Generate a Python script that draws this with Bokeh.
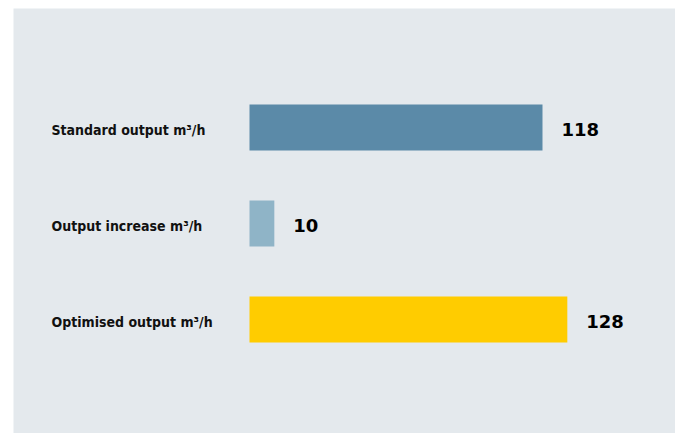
from bokeh.plotting import figure
from bokeh.models import Range1d, ColumnDataSource
from bokeh.core.properties import value
from bokeh.embed import file_html
from bokeh.resources import INLINE

categories = ["Standard output m³/h", "Output increase m³/h", "Optimised output m³/h"]
values = [118, 10, 128]
colors = ["#5b8aa8", "#8fb4c7", "#ffcc00"]
positions = [0, 1, 2]

k = 2.483
x_start = -236 / k
x_end = 426 / k

p = figure(width=675, height=433, output_backend="svg", toolbar_location=None,
           x_range=Range1d(x_start, x_end), y_range=Range1d(3.1875, -1.2396),
           min_border_left=13, min_border_right=0, min_border_top=8, min_border_bottom=0)
p.background_fill_color = "#e4e9ed"
p.border_fill_color = "white"
p.outline_line_color = None
p.xaxis.visible = False
p.yaxis.visible = False
p.xgrid.visible = False
p.ygrid.visible = False

src = ColumnDataSource(dict(y=positions, v=values, c=colors, cat=categories,
                            lx=[x_start] * 3, lbl=[str(v) for v in values]))
p.hbar(y="y", left=0, right="v", height=0.479, fill_color="c", line_color=None, source=src)
p.text(x="lx", y="y", text="cat", x_offset=38, y_offset=2, text_baseline="middle", text_align="left",
       text_font=value("DejaVu Sans Condensed"), text_font_style="bold", text_font_size="14px",
       text_color="#111111", source=src)
p.text(x="v", y="y", text="lbl", x_offset=19, y_offset=2, text_baseline="middle", text_align="left",
       text_font=value("DejaVu Sans"), text_font_style="bold", text_font_size="18px",
       text_color="#000000", source=src)

open("out.html", "w").write(file_html(p, INLINE))
